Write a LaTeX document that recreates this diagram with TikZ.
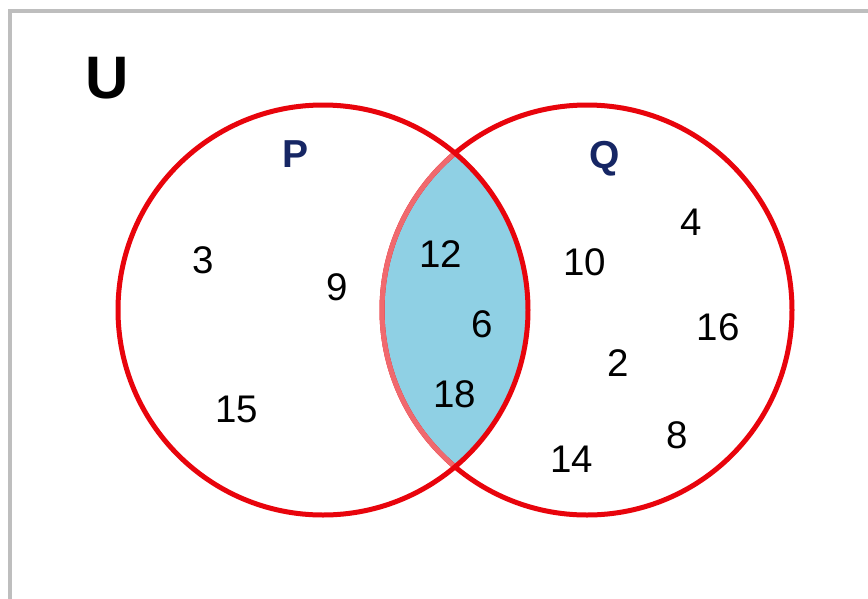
\documentclass[tikz,border=0pt]{standalone}
\usepackage{fontspec}
\setmainfont{Liberation Sans}
\definecolor{vred}{RGB}{232,4,12}
\definecolor{lred}{RGB}{240,105,110}
\definecolor{lens}{RGB}{143,208,228}
\definecolor{navy}{RGB}{22,38,100}
\definecolor{frame}{RGB}{190,190,190}
\tikzset{
  num/.style={inner sep=0pt, anchor=base, font=\fontsize{38.5}{40}\selectfont, text=black},
  setlabel/.style={inner sep=0pt, anchor=base, font=\fontsize{39}{40}\selectfont\bfseries, text=navy},
  ring/.style={draw=vred, line width=5pt},
}
\begin{document}
\begin{tikzpicture}[x=1pt,y=-1pt]
\useasboundingbox (0,0) rectangle (868,598);
\fill[white] (0,0) rectangle (868,598);
% frame
\draw[frame, line width=4pt] (9.5,600) -- (9.5,10.5) -- (870,10.5);
% centers
\coordinate (P) at (323,310);
\coordinate (Q) at (587,310);
% lens fill
\begin{scope}
  \clip (P) circle[radius=205pt];
  \fill[lens] (Q) circle[radius=205pt];
\end{scope}
\draw[ring] (Q) circle[radius=205pt];
\begin{scope}
  \clip (P) circle[radius=205pt];
  \draw[draw=lred, line width=5pt] (Q) circle[radius=205pt];
\end{scope}
\draw[ring] (P) circle[radius=205pt];
% labels
\node[inner sep=0pt, anchor=base, font=\fontsize{60}{62}\selectfont\bfseries] (U) at (107,98) {U};
\node[setlabel] (lP) at (296,167) {P};
\node[setlabel] (lQ) at (605,168) {Q};
% numbers
\node[num] (n3) at (203,273) {3};
\node[num] (n9) at (337,300) {9};
\node[num] (n15) at (237,422) {15};
\node[num] (n12) at (441,267) {12};
\node[num] (n6) at (482,337) {6};
\node[num] (n18) at (455,407) {18};
\node[num] (n10) at (585,275) {10};
\node[num] (n4) at (691,235) {4};
\node[num] (n16) at (718,340) {16};
\node[num] (n2) at (618,376) {2};
\node[num] (n8) at (677,448) {8};
\node[num] (n14) at (572,472) {14};
\end{tikzpicture}
\end{document}
